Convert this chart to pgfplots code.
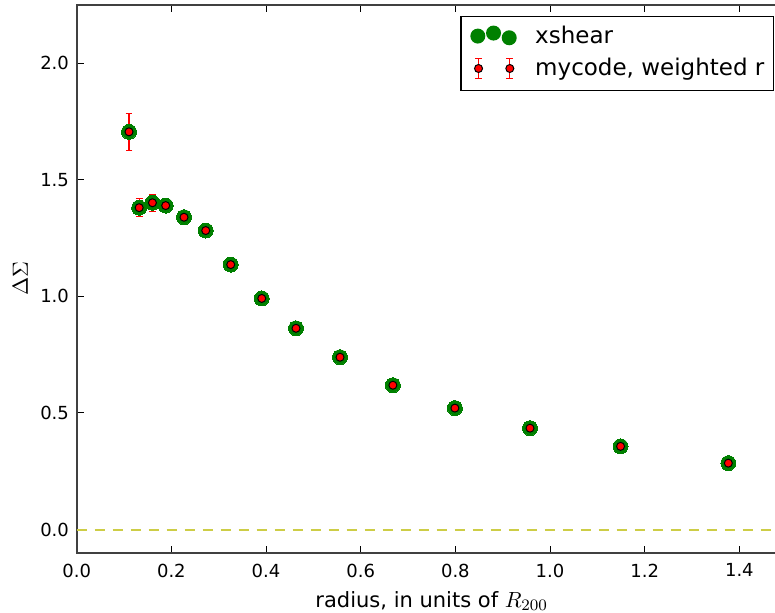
\documentclass[border=0pt]{standalone}
\usepackage{pgfplots}
\usepackage{pgfplotstable}
\pgfplotsset{compat=1.18}
\usepackage{fontspec}
\setmainfont{DejaVu Sans}

\definecolor{mplgreen}{HTML}{008000}
\definecolor{zeroline}{RGB}{205,205,70}
\definecolor{spine}{HTML}{404040}

\pgfplotstableread{
x y
0.1105 1.705
0.132 1.380
0.160 1.401
0.188 1.389
0.2267 1.339
0.2726 1.282
0.3254 1.136
0.391 0.991
0.4633 0.863
0.5563 0.739
0.668 0.619
0.799 0.521
0.9577 0.435
1.149 0.357
1.3767 0.285
}\xshear

\pgfplotstableread{
x y e
0.1105 1.705 0.079
0.132 1.380 0.038
0.160 1.401 0.036
0.188 1.389 0.018
0.2267 1.339 0.014
0.2726 1.282 0.012
0.3254 1.136 0.010
0.391 0.991 0.009
0.4633 0.863 0.008
0.5563 0.739 0.007
0.668 0.619 0.006
0.799 0.521 0.006
0.9577 0.435 0.005
1.149 0.357 0.005
1.3767 0.285 0.004
}\mycode

\begin{document}
\begin{tikzpicture}
\begin{axis}[
  name=ax, scale only axis, width=355pt, height=274.15pt,
  xmin=0, xmax=1.5, ymin=-0.1, ymax=2.25,
  xtick={0,0.2,0.4,0.6,0.8,1.0,1.2,1.4},
  ytick={0,0.5,1.0,1.5,2.0},
  /pgf/number format/fixed, /pgf/number format/fixed zerofill, /pgf/number format/precision=1,
  /pgf/number format/assume math mode=true,
  xticklabel style={font=\fontsize{9}{10}\selectfont, anchor=north, inner sep=0pt, yshift=-5.15pt},
  yticklabel style={font=\fontsize{9}{10}\selectfont, anchor=east, inner sep=0pt, xshift=-3.7pt},
  tick align=inside, major tick length=3.5pt,
  tick style={black, line width=0.5pt},
  axis line style={spine, line width=1pt},
  xlabel={radius, in units of $R_{\hbox{\fontsize{8.3}{9}\selectfont$200$}}$},
  ylabel={$\Delta\Sigma$},
  xlabel style={at={(axis description cs:0.5,-0.099)}, anchor=base, font=\fontsize{10.5}{12}\selectfont},
  ylabel style={at={(axis description cs:-0.0792,0.5)}, anchor=center, font=\fontsize{10.5}{12}\selectfont},
  legend cell align=left,
  legend style={at={(axis description cs:1,1)}, anchor=north east, xshift=-6.2pt, yshift=-5.5pt,
    draw=black, line width=0.6pt, inner xsep=4.65pt, inner ysep=2.3pt, row sep=0pt,
    font=\fontsize{11.5}{13}\selectfont, nodes={inner sep=0pt}},
]
\addplot[forget plot, zeroline, line width=1.1pt, dash pattern=on 5pt off 4pt] coordinates {(0,0) (1.5,0)};
\addplot[only marks, mark=*, mark size=3.75pt, mark options={fill=mplgreen, draw=mplgreen, line width=0pt},
  legend image code/.code={
    \path[draw=none, fill=none] (-3.35pt,-8.6pt) rectangle (28.7pt,7.6pt);
    \fill[mplgreen, draw=none] (0pt,0pt) circle[radius=3.75pt];
    \fill[mplgreen, draw=none] (7.85pt,1.5pt) circle[radius=3.75pt];
    \fill[mplgreen, draw=none] (15.7pt,-0.85pt) circle[radius=3.75pt];
  }] table[x=x,y=y]{\xshear};
\addplot[only marks, mark=*, mark size=2pt, mark options={fill=red, draw=black, line width=0.5pt},
  error bars/.cd, y dir=both, y explicit,
  error bar style={solid, draw=red, color=red, line width=0.6pt},
  error mark options={rotate=90, draw=red, color=red, mark size=1.7pt, line width=0.6pt},
  /pgfplots/legend image code/.code={
    \path[draw=none, fill=none] (-3.35pt,-8.6pt) rectangle (28.7pt,7.6pt);
    \foreach \xx in {0.35pt,16pt}{
      \draw[red, line width=0.6pt] (\xx,-5pt) -- (\xx,5pt);
      \draw[red, line width=0.6pt] (\xx-1.7pt,5pt) -- (\xx+1.7pt,5pt);
      \draw[red, line width=0.6pt] (\xx-1.7pt,-5pt) -- (\xx+1.7pt,-5pt);
      \filldraw[fill=red, draw=black, line width=0.5pt] (\xx,0pt) circle[radius=2pt];
    }
  }] table[x=x,y=y,y error=e]{\mycode};
\legend{xshear, {mycode, weighted r}}
\end{axis}
\pgfresetboundingbox
\useasboundingbox ([shift={(-38.35pt,-30pt)}]ax.south west) rectangle ([shift={(-5.85pt,2.35pt)}]ax.north east);
\end{tikzpicture}
\end{document}
